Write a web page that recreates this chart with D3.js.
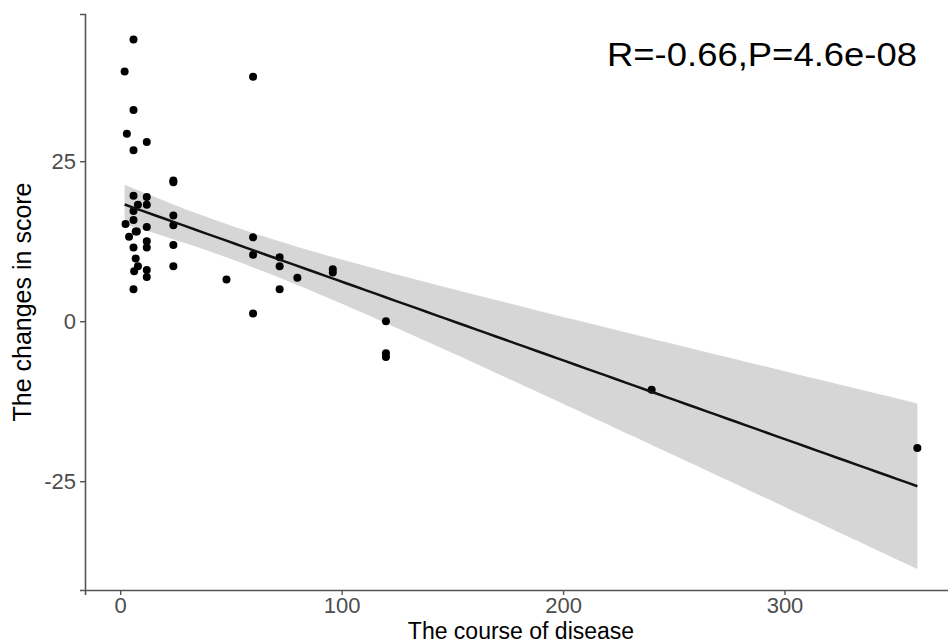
<!DOCTYPE html>
<html lang="en">
<head>
<meta charset="utf-8">
<title>Course of disease vs score change</title>
<script src="https://d3js.org/d3.v7.min.js"></script>
<style>
  body { margin: 0; background: #fff; }
  text { font-family: "Liberation Sans", Arial, sans-serif; }
</style>
</head>
<body>
<script>
    // values
    var course = [6, 2, 6, 3, 12, 6, 24, 24, 6, 12, 8, 12, 6, 24, 2.4, 6,
                  24, 12, 7, 7.5, 4, 12, 24, 6, 12, 7, 8, 6.3, 12, 12, 24, 6,
                  60, 60, 60, 48, 72, 72, 80, 96, 96, 72, 60, 120, 120, 120, 240, 360];
    var change = [44, 39, 33, 29.3, 28, 26.7, 22, 21.7, 19.6, 19.4, 18.2, 18.2, 17.2, 16.5, 15.2, 15.8,
                  15, 14.7, 14, 14, 13.2, 12.5, 11.9, 11.5, 11.5, 9.8, 8.6, 7.8, 8, 6.9, 8.6, 5,
                  38.2, 13.1, 10.4, 6.5, 10, 8.6, 6.8, 8.1, 7.6, 5, 1.2, 0, -5, -5.6, -10.7, -19.8];
    var xTicks = [0, 100, 200, 300];
    var yTicks = [-25, 0, 25];
    var label = "R=-0.66,P=4.6e-08";

    var width = 948, height = 644;
    var svg = d3.select("body").append("svg")
        .attr("width", width)
        .attr("height", height);

    var x = d3.scaleLinear().domain([-15.9, 377.9]).range([85, 957]);
    var y = d3.scaleLinear().domain([-42, 48]).range([590, 14]);

    // linear fit with 95% band, like geom_smooth(method = "lm")
    var n = course.length;
    var mx = d3.mean(course), my = d3.mean(change);
    var sxx = d3.sum(course, d => (d - mx) * (d - mx));
    var sxy = d3.sum(course, (d, i) => (d - mx) * (change[i] - my));
    var b = sxy / sxx, a = my - b * mx;
    var rss = d3.sum(course, (d, i) => Math.pow(change[i] - (a + b * d), 2));
    var s = Math.sqrt(rss / (n - 2));
    var df = n - 2, z = 1.959964;
    var tq = z + (z * z * z + z) / (4 * df) + (5 * Math.pow(z, 5) + 16 * z * z * z + 3 * z) / (96 * df * df);

    var xs = d3.range(80).map(i => d3.min(course) + i * (d3.max(course) - d3.min(course)) / 79);
    var fit = xs.map(function (xv) {
        var yh = a + b * xv;
        var se = s * Math.sqrt(1 / n + (xv - mx) * (xv - mx) / sxx);
        return {x: xv, y: yh, lo: yh - tq * se, hi: yh + tq * se};
    });

    svg.append("path")
        .datum(fit)
        .attr("fill", "#d6d6d6")
        .attr("d", d3.area().x(d => x(d.x)).y0(d => y(d.lo)).y1(d => y(d.hi)));

    svg.append("g")
        .selectAll("circle")
        .data(course)
        .join("circle")
        .attr("cx", d => x(d))
        .attr("cy", (d, i) => y(change[i]))
        .attr("r", 4)
        .attr("fill", "#000");

    svg.append("path")
        .datum(fit)
        .attr("fill", "none")
        .attr("stroke", "#111")
        .attr("stroke-width", 2.5)
        .attr("d", d3.line().x(d => x(d.x)).y(d => y(d.y)));

    // axes (plain hyphen minus, as in the original)
    var fmt = d => String(d);
    var xAxis = svg.append("g")
        .attr("transform", "translate(0,590)")
        .call(d3.axisBottom(x).tickValues(xTicks).tickSize(5).tickPadding(2).tickFormat(fmt));
    var yAxis = svg.append("g")
        .attr("transform", "translate(85,0)")
        .call(d3.axisLeft(y).tickValues(yTicks).tickSize(5).tickPadding(4).tickFormat(fmt));

    [xAxis, yAxis].forEach(function (g) {
        g.select(".domain").attr("stroke", "#555").attr("stroke-width", 1.6);
        g.selectAll(".tick line").attr("stroke", "#555").attr("stroke-width", 1.4);
        g.selectAll(".tick text")
            .attr("fill", "#4d4d4d")
            .style("font-size", "22px")
            .style("font-family", "'Liberation Sans', Arial, sans-serif");
    });

    svg.append("text")
        .attr("x", 521)
        .attr("y", 639)
        .attr("text-anchor", "middle")
        .style("font-size", "23px")
        .text("The course of disease");

    svg.append("text")
        .attr("transform", "translate(31,302) rotate(-90)")
        .attr("text-anchor", "middle")
        .style("font-size", "25px")
        .text("The changes in score");

    svg.append("text")
        .attr("x", 607)
        .attr("y", 66)
        .attr("textLength", 310)
        .attr("lengthAdjust", "spacingAndGlyphs")
        .style("font-size", "33px")
        .text(label);
</script>
</body>
</html>
